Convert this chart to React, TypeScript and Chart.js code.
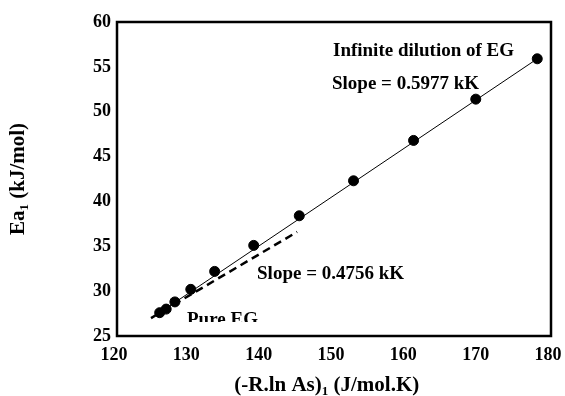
import React, { useEffect, useRef } from "react";
import { Chart, registerables } from "chart.js";

Chart.register(...registerables);

// Measured Ea1 against the entropy term (-R ln As)1
const entropyTerm = [125.9, 126.8, 128.0, 130.2, 133.5, 138.9, 145.2, 152.7, 161.0, 169.6, 178.1];
const activationEnergy = [27.6, 28.0, 28.8, 30.2, 32.2, 35.1, 38.4, 42.3, 46.8, 51.4, 55.9];

// Straight fit through the whole series (infinite dilution of EG)
const dilutionFitX = [125.9, 178.1];
const dilutionFitY = [27.6, 55.9];

// Dashed fit for the pure EG end
const pureFitX = [124.7, 144.9];
const pureFitY = [27.0, 36.6];

const xTicks = [120, 130, 140, 150, 160, 170, 180];
const yTicks = [25, 30, 35, 40, 45, 50, 55, 60];

const FONT = "'Liberation Serif', 'Times New Roman', serif";

const toPoints = (xs: number[], ys: number[]) => xs.map((x, i) => ({ x, y: ys[i] }));

// Text with a subscript part, centred on (cx, cy)
function drawSubscripted(
  ctx: CanvasRenderingContext2D,
  parts: { text: string; sub?: boolean }[],
  size: number,
  cx: number,
  cy: number
) {
  const big = `bold ${size}px ${FONT}`;
  const small = `bold ${Math.round(size * 0.62)}px ${FONT}`;
  let total = 0;
  for (const p of parts) {
    ctx.font = p.sub ? small : big;
    total += ctx.measureText(p.text).width;
  }
  let x = cx - total / 2;
  for (const p of parts) {
    ctx.font = p.sub ? small : big;
    ctx.fillText(p.text, x, p.sub ? cy + size * 0.28 : cy);
    x += ctx.measureText(p.text).width;
  }
}

const framePlugin = {
  id: "frameAndLabels",
  afterDraw(chart: any) {
    const { ctx, chartArea, scales } = chart;
    const xs = scales.x;
    const ys = scales.y;
    ctx.save();
    // box around the plot
    ctx.strokeStyle = "#000";
    ctx.lineWidth = 2.5;
    ctx.strokeRect(chartArea.left, chartArea.top, chartArea.right - chartArea.left, chartArea.bottom - chartArea.top);

    ctx.fillStyle = "#000";
    ctx.textBaseline = "middle";
    ctx.textAlign = "left";
    ctx.font = `bold 19px ${FONT}`;
    ctx.fillText("Infinite dilution of EG", xs.getPixelForValue(149.86), ys.getPixelForValue(56.77));
    ctx.fillText("Slope = 0.5977 kK", xs.getPixelForValue(149.72), ys.getPixelForValue(53.09));
    ctx.fillText("Slope = 0.4756 kK", xs.getPixelForValue(139.36), ys.getPixelForValue(31.91));

    // "Pure EG" sits on the lower edge and is cut off there
    ctx.save();
    ctx.beginPath();
    ctx.rect(0, 0, chart.width, ys.getPixelForValue(26.56));
    ctx.clip();
    ctx.fillText("Pure EG", xs.getPixelForValue(129.68), ys.getPixelForValue(26.75));
    ctx.restore();

    // axis titles
    drawSubscripted(
      ctx,
      [{ text: "(-R.ln As)" }, { text: "1", sub: true }, { text: " (J/mol.K)" }],
      21,
      xs.getPixelForValue(149.0),
      386
    );
    ctx.save();
    ctx.translate(19, (chartArea.top + chartArea.bottom) / 2);
    ctx.rotate(-Math.PI / 2);
    drawSubscripted(ctx, [{ text: "Ea" }, { text: "1", sub: true }, { text: " (kJ/mol)" }], 21, 0, 0);
    ctx.restore();
    ctx.restore();
  },
};

export default function App() {
  const canvasRef = useRef<HTMLCanvasElement | null>(null);

  useEffect(() => {
    if (!canvasRef.current) return;
    const chart = new Chart(canvasRef.current, {
      type: "scatter",
      data: {
        datasets: [
          {
            label: "fit",
            data: toPoints(dilutionFitX, dilutionFitY),
            showLine: true,
            borderColor: "#000",
            borderWidth: 1,
            pointRadius: 0,
          },
          {
            label: "pure",
            data: toPoints(pureFitX, pureFitY),
            showLine: true,
            borderColor: "#000",
            borderWidth: 2.5,
            borderDash: [8, 5],
            pointRadius: 0,
          },
          {
            label: "Ea1",
            data: toPoints(entropyTerm, activationEnergy),
            showLine: false,
            pointRadius: 5,
            pointBackgroundColor: "#000",
            pointBorderColor: "#000",
          },
        ],
      },
      options: {
        animation: false,
        responsive: false,
        layout: { padding: { top: 22, right: 14, left: 0, bottom: 0 } },
        plugins: { legend: { display: false }, tooltip: { enabled: false } },
        scales: {
          x: {
            type: "linear",
            min: 120,
            max: 180,
            afterBuildTicks: (s: any) => {
              s.ticks = xTicks.map((v) => ({ value: v }));
            },
            afterFit: (s: any) => {
              s.height = 60;
              s.paddingLeft = 0;
              s.paddingRight = 0;
            },
            grid: { display: false, drawTicks: false },
            border: { display: false },
            ticks: {
              color: "#000",
              padding: 9,
              labelOffset: -3,
              font: { family: FONT, size: 18, weight: "bold" },
            },
          },
          y: {
            type: "linear",
            min: 25,
            max: 60,
            afterBuildTicks: (s: any) => {
              s.ticks = yTicks.map((v) => ({ value: v }));
            },
            afterFit: (s: any) => {
              s.width = 117;
              s.paddingTop = 0;
              s.paddingBottom = 0;
            },
            grid: { display: false, drawTicks: false },
            border: { display: false },
            ticks: {
              color: "#000",
              padding: 6,
              font: { family: FONT, size: 18, weight: "bold" },
            },
          },
        },
      },
      plugins: [framePlugin],
    });
    return () => chart.destroy();
  }, []);

  return (
    <div style={{ position: "fixed", left: 0, top: 0, width: 565, height: 396, background: "#fff" }}>
      <canvas ref={canvasRef} width={565} height={396} />
    </div>
  );
}
